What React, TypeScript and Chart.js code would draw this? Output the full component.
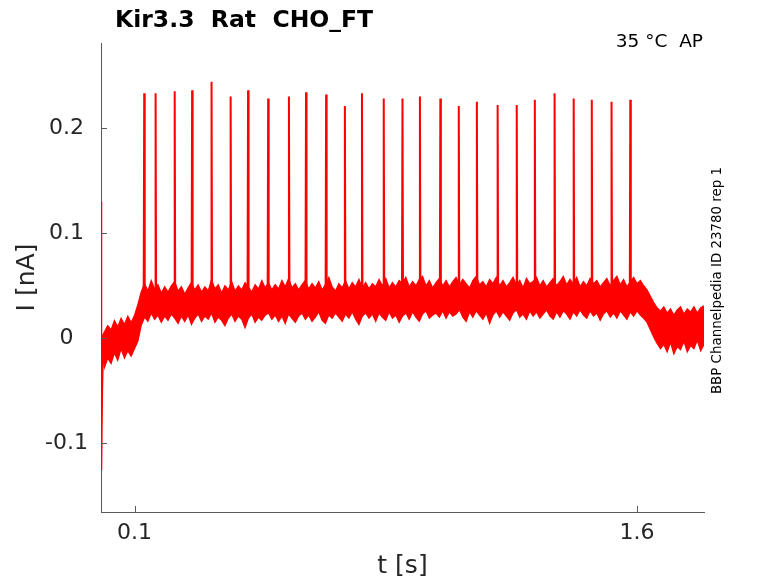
import React, { useEffect, useRef } from 'react'
import { Chart, registerables } from 'chart.js'

Chart.register(...registerables)

// noise band of the recorded current, sampled every 10 ms from t = 0
const sampleStep = 0.01
const upperEnvelope = [
    0.000, 0.006, 0.012, 0.008, 0.017, 0.011, 0.019, 0.013, 0.021, 0.015,
    0.022, 0.032, 0.044, 0.052, 0.045, 0.055, 0.047, 0.051, 0.043, 0.049,
    0.044, 0.050, 0.054, 0.045, 0.049, 0.042, 0.048, 0.053, 0.046, 0.051,
    0.044, 0.049, 0.045, 0.056, 0.047, 0.051, 0.043, 0.050, 0.046, 0.054,
    0.045, 0.050, 0.046, 0.053, 0.049, 0.044, 0.051, 0.047, 0.055, 0.048,
    0.053, 0.046, 0.051, 0.047, 0.055, 0.049, 0.057, 0.048, 0.052, 0.046,
    0.051, 0.055, 0.047, 0.052, 0.048, 0.054, 0.046, 0.051, 0.058, 0.049,
    0.045, 0.052, 0.048, 0.055, 0.047, 0.053, 0.049, 0.056, 0.048, 0.053,
    0.047, 0.052, 0.049, 0.056, 0.050, 0.057, 0.048, 0.053, 0.049, 0.055,
    0.052, 0.058, 0.049, 0.054, 0.050, 0.056, 0.059, 0.050, 0.055, 0.048,
    0.053, 0.057, 0.050, 0.055, 0.049, 0.054, 0.058, 0.051, 0.056, 0.052,
    0.048, 0.055, 0.059, 0.051, 0.054, 0.049, 0.056, 0.052, 0.058, 0.050,
    0.055, 0.049, 0.053, 0.058, 0.051, 0.055, 0.048, 0.057, 0.052, 0.054,
    0.058, 0.050, 0.055, 0.049, 0.053, 0.057, 0.050, 0.054, 0.059, 0.051,
    0.056, 0.052, 0.058, 0.049, 0.054, 0.050, 0.057, 0.052, 0.055, 0.049,
    0.053, 0.057, 0.050, 0.055, 0.059, 0.051, 0.056, 0.049, 0.054, 0.058,
    0.052, 0.055, 0.050, 0.046, 0.040, 0.034, 0.029, 0.026, 0.030, 0.024,
    0.028, 0.022, 0.027, 0.030, 0.023, 0.028, 0.025, 0.030, 0.024, 0.029, 0.031,
]
const lowerEnvelope = [
    -0.006, -0.028, -0.019, -0.024, -0.014, -0.021, -0.010, -0.019, -0.012, -0.017,
    -0.010, -0.003, 0.012, 0.020, 0.016, 0.024, 0.018, 0.022, 0.015, 0.021,
    0.017, 0.023, 0.019, 0.014, 0.021, 0.016, 0.022, 0.013, 0.019, 0.023,
    0.016, 0.021, 0.018, 0.024, 0.015, 0.020, 0.017, 0.012, 0.019, 0.023,
    0.016, 0.021, 0.018, 0.010, 0.019, 0.023, 0.015, 0.020, 0.017, 0.022,
    0.024, 0.018, 0.022, 0.016, 0.021, 0.014, 0.023, 0.019, 0.015, 0.021,
    0.024, 0.018, 0.022, 0.016, 0.020, 0.025, 0.017, 0.014, 0.022, 0.019,
    0.024, 0.020, 0.016, 0.023, 0.019, 0.025, 0.018, 0.013, 0.021, 0.024,
    0.019, 0.023, 0.016, 0.024, 0.020, 0.017, 0.025, 0.019, 0.022, 0.015,
    0.021, 0.024, 0.018, 0.025, 0.020, 0.016, 0.023, 0.026, 0.019, 0.022,
    0.024, 0.020, 0.026, 0.019, 0.025, 0.021, 0.023, 0.027, 0.020, 0.016,
    0.025, 0.020, 0.026, 0.022, 0.018, 0.024, 0.014, 0.022, 0.026, 0.020,
    0.025, 0.021, 0.017, 0.024, 0.027, 0.020, 0.023, 0.018, 0.026, 0.021,
    0.025, 0.019, 0.023, 0.027, 0.021, 0.018, 0.025, 0.020, 0.026, 0.023,
    0.018, 0.025, 0.021, 0.027, 0.022, 0.019, 0.026, 0.021, 0.024, 0.017,
    0.023, 0.026, 0.020, 0.024, 0.019, 0.026, 0.022, 0.018, 0.025, 0.021,
    0.026, 0.022, 0.019, 0.015, 0.008, 0.001, -0.005, -0.010, -0.006, -0.013,
    -0.004, -0.015, -0.008, -0.011, -0.003, -0.013, -0.007, -0.010, -0.002, -0.012, -0.006,
]

// capacitive transient right at the start
const onsetTimes = [0, 0.001, 0.002, 0.004, 0.006, 0.01]
const onsetValues = [0.13, 0.06, -0.126, -0.05, -0.02, -0.005]

// action-potential spikes
const spikeTimes = [
    0.129, 0.163, 0.220, 0.272, 0.330, 0.387, 0.439, 0.499, 0.561, 0.612,
    0.672, 0.728, 0.779, 0.844, 0.900, 0.952, 1.013, 1.068, 1.122, 1.184,
    1.241, 1.295, 1.354, 1.411, 1.465, 1.524, 1.580,
]
const spikePeaks = [
    0.233, 0.233, 0.235, 0.236, 0.244, 0.230, 0.236, 0.228, 0.230, 0.234,
    0.232, 0.221, 0.233, 0.228, 0.228, 0.230, 0.228, 0.221, 0.225, 0.222,
    0.222, 0.227, 0.233, 0.228, 0.227, 0.225, 0.227,
]
const spikeFoot = 0.047

const xTicks = [0.1, 1.6]
const xTickLabels = ['0.1', '1.6']
const yTicks = [-0.1, 0, 0.1, 0.2]
const yTickLabels = ['-0.1', '0', '0.1', '0.2']

const titleText = 'Kir3.3  Rat  CHO_FT'
const conditionText = '35 °C  AP'
const sourceText = 'BBP Channelpedia ID 23780 rep 1'

const RED = '#ff0000'
const AXIS = '#5a5a5a'
const FONT = "'DejaVu Sans', sans-serif"

const decorations = {
    id: 'decorations',
    afterDraw(chart: any) {
        const { ctx, chartArea, scales } = chart
        ctx.save()
        // inward tick marks
        ctx.strokeStyle = AXIS
        ctx.lineWidth = 1
        ctx.beginPath()
        xTicks.forEach((v) => {
            const px = Math.round(scales.x.getPixelForValue(v)) + 0.5
            ctx.moveTo(px, chartArea.bottom)
            ctx.lineTo(px, chartArea.bottom - 6)
        })
        yTicks.forEach((v) => {
            const py = Math.round(scales.y.getPixelForValue(v)) + 0.5
            ctx.moveTo(chartArea.left, py)
            ctx.lineTo(chartArea.left + 6, py)
        })
        ctx.stroke()

        ctx.fillStyle = '#000'
        ctx.textBaseline = 'alphabetic'
        ctx.font = `bold 23.5px ${FONT}`
        ctx.textAlign = 'left'
        ctx.fillText(titleText, 115, 27)

        ctx.font = `18.5px ${FONT}`
        ctx.textAlign = 'right'
        ctx.fillText(conditionText, chartArea.right - 1, 47)

        ctx.font = `13.4px ${FONT}`
        ctx.textAlign = 'center'
        ctx.translate(721, (chartArea.top + chartArea.bottom) / 2 + 3)
        ctx.rotate(-Math.PI / 2)
        ctx.fillText(sourceText, 0, 0)
        ctx.restore()
    },
}

const App = () => {
    const canvasRef = useRef<HTMLCanvasElement>(null)

    useEffect(() => {
        if (canvasRef.current == null) return

        const upper = upperEnvelope.map((v, i) => ({ x: i * sampleStep, y: v }))
        const lower = lowerEnvelope.map((v, i) => ({ x: i * sampleStep, y: v }))
        const onset = onsetTimes.map((t, i) => ({ x: t, y: onsetValues[i] }))
        const spikes: { x: number; y: number | null }[] = []
        spikeTimes.forEach((t, i) => {
            spikes.push({ x: t - 0.0015, y: spikeFoot })
            spikes.push({ x: t, y: spikePeaks[i] })
            spikes.push({ x: t + 0.0015, y: spikeFoot - 0.006 })
            spikes.push({ x: t + 0.002, y: null })
        })

        const chart = new Chart(canvasRef.current, {
            type: 'line',
            data: {
                datasets: [
                    {
                        data: upper,
                        borderColor: RED,
                        borderWidth: 1.2,
                        pointRadius: 0,
                        fill: false,
                    },
                    {
                        data: lower,
                        borderColor: RED,
                        borderWidth: 1.2,
                        backgroundColor: RED,
                        pointRadius: 0,
                        fill: '-1',
                    },
                    {
                        data: spikes,
                        borderColor: RED,
                        borderWidth: 2,
                        pointRadius: 0,
                        spanGaps: false,
                    },
                    {
                        data: onset,
                        borderColor: RED,
                        borderWidth: 1.5,
                        pointRadius: 0,
                    },
                ],
            },
            options: {
                animation: false,
                responsive: true,
                maintainAspectRatio: false,
                layout: { padding: { top: 43, right: 74, left: 0, bottom: 0 } },
                plugins: {
                    legend: { display: false },
                    title: { display: false },
                    tooltip: { enabled: false },
                },
                scales: {
                    x: {
                        type: 'linear',
                        min: 0,
                        max: 1.8,
                        grid: { display: false, drawTicks: false },
                        border: { display: true, color: AXIS, width: 1 },
                        afterBuildTicks: (scale: any) => {
                            scale.ticks = xTicks.map((v) => ({ value: v }))
                        },
                        afterFit: (scale: any) => {
                            scale.height = 71
                        },
                        ticks: {
                            padding: 8,
                            color: '#262626',
                            font: { family: FONT, size: 22 },
                            maxRotation: 0,
                            callback: (v: any) => xTickLabels[xTicks.indexOf(Number(v))] ?? '',
                        },
                        title: {
                            display: true,
                            text: 't [s]',
                            color: '#262626',
                            font: { family: FONT, size: 25 },
                            padding: { top: 0, bottom: 2 },
                        },
                    },
                    y: {
                        type: 'linear',
                        min: -0.1653,
                        max: 0.2809,
                        grid: { display: false, drawTicks: false },
                        border: { display: true, color: AXIS, width: 1 },
                        afterBuildTicks: (scale: any) => {
                            scale.ticks = yTicks.map((v) => ({ value: v }))
                        },
                        afterFit: (scale: any) => {
                            scale.width = 101
                        },
                        ticks: {
                            padding: 13,
                            crossAlign: 'center',
                            color: '#262626',
                            font: { family: FONT, size: 22 },
                            callback: (v: any) => yTickLabels[yTicks.indexOf(Number(v))] ?? '',
                        },
                        title: {
                            display: true,
                            text: 'I [nA]',
                            color: '#262626',
                            font: { family: FONT, size: 25 },
                            padding: { top: 12, bottom: 0 },
                        },
                    },
                },
            },
            plugins: [decorations],
        })

        return () => {
            chart.destroy()
        }
    }, [])

    return (
        <div style={{ position: 'absolute', left: 0, top: 0, width: 778, height: 583, background: '#fff' }}>
            <canvas ref={canvasRef}></canvas>
        </div>
    )
}

export default App
